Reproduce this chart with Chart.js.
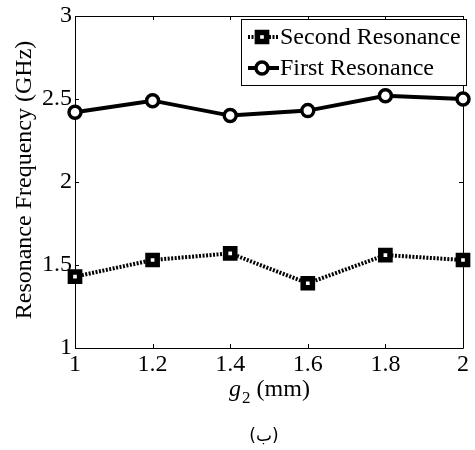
<!DOCTYPE html>
<html>
<head>
<meta charset="utf-8">
<script src="https://cdn.jsdelivr.net/npm/chart.js@4/dist/chart.umd.min.js"></script>
<style>
  body { margin: 0; background: #fff; }
  #wrap { width: 475px; height: 450px; }
</style>
</head>
<body>
<div id="wrap"><canvas id="chart" width="475" height="450"></canvas></div>
<script>
// values
const gValues = [1, 1.2, 1.4, 1.6, 1.8, 2];
const firstRes = [2.42, 2.49, 2.40, 2.43, 2.52, 2.50];
const secondRes = [1.43, 1.53, 1.57, 1.39, 1.56, 1.53];
const xTicks = [1, 1.2, 1.4, 1.6, 1.8, 2];
const yTicks = [1, 1.5, 2, 2.5, 3];
const seriesNames = ['Second Resonance', 'First Resonance'];

const FONT = '"Liberation Serif"';

function pts(ys) {
    return gValues.map((x, i) => ({ x: x, y: ys[i] }));
}

// draws the matlab style box, inward ticks, labels and legend
const axesPlugin = {
    id: 'matlabAxes',
    beforeDatasetsDraw(chart) {
        const ctx = chart.ctx;
        const a = chart.chartArea;
        const xs = chart.scales.x, ys = chart.scales.y;
        ctx.save();
        ctx.strokeStyle = '#000';
        ctx.lineWidth = 1;
        ctx.beginPath();
        ctx.rect(a.left + 0.5, a.top + 0.5, a.right - a.left, a.bottom - a.top);
        ctx.stroke();
        ctx.beginPath();
        xTicks.forEach(v => {
            const px = Math.round(xs.getPixelForValue(v)) + 0.5;
            ctx.moveTo(px, a.bottom); ctx.lineTo(px, a.bottom - 4);
            ctx.moveTo(px, a.top); ctx.lineTo(px, a.top + 4);
        });
        yTicks.forEach(v => {
            const py = Math.round(ys.getPixelForValue(v)) + 0.5;
            ctx.moveTo(a.left, py); ctx.lineTo(a.left + 4, py);
            ctx.moveTo(a.right, py); ctx.lineTo(a.right - 4, py);
        });
        ctx.stroke();

        ctx.fillStyle = '#000';
        ctx.font = '24px ' + FONT;
        ctx.textAlign = 'center';
        ctx.textBaseline = 'top';
        xTicks.forEach(v => {
            ctx.fillText(String(v), xs.getPixelForValue(v), a.bottom + 5);
        });
        ctx.textAlign = 'right';
        ctx.textBaseline = 'middle';
        yTicks.forEach(v => {
            ctx.fillText(String(v), a.left - 3, ys.getPixelForValue(v));
        });

        // x title: g2 (mm)
        const cx = (a.left + a.right) / 2;
        ctx.textAlign = 'left';
        ctx.textBaseline = 'alphabetic';
        ctx.font = 'italic 24px ' + FONT;
        const gw = ctx.measureText('g').width;
        ctx.font = '17px ' + FONT;
        const sw = ctx.measureText('2').width;
        ctx.font = '24px ' + FONT;
        const mw = ctx.measureText(' (mm)').width;
        let x0 = cx - (gw + sw + mw) / 2;
        const base = 396;
        ctx.font = 'italic 24px ' + FONT;
        ctx.fillText('g', x0, base);
        ctx.font = '17px ' + FONT;
        ctx.fillText('2', x0 + gw + 1, base + 7);
        ctx.font = '24px ' + FONT;
        ctx.fillText(' (mm)', x0 + gw + sw + 1, base);

        // y title
        ctx.save();
        ctx.translate(31, (a.top + a.bottom) / 2 - 2);
        ctx.rotate(-Math.PI / 2);
        ctx.textAlign = 'center';
        ctx.textBaseline = 'alphabetic';
        ctx.font = '24px ' + FONT;
        ctx.fillText('Resonance Frequency (GHz)', 0, 0);
        ctx.restore();

        // caption
        ctx.textAlign = 'center';
        ctx.textBaseline = 'alphabetic';
        ctx.font = '17px "DejaVu Sans"';
        ctx.fillText('(ب)', 264, 441);
        ctx.restore();
    },
    afterDraw(chart) {
        const ctx = chart.ctx;
        ctx.save();
        // legend box
        const bx = 241.5, by = 19.5, bw = 225, bh = 66;
        ctx.fillStyle = '#fff';
        ctx.fillRect(bx, by, bw, bh);
        ctx.strokeStyle = '#000';
        ctx.lineWidth = 1;
        ctx.strokeRect(bx, by, bw, bh);

        const rows = [37, 68];
        chart.data.datasets.forEach((ds, i) => {
            const y = rows[i];
            ctx.strokeStyle = '#000';
            ctx.lineWidth = 4;
            ctx.setLineDash(ds.borderDash || []);
            ctx.beginPath();
            ctx.moveTo(248, y); ctx.lineTo(279, y);
            ctx.stroke();
            ctx.setLineDash([]);
            ctx.fillStyle = '#fff';
            ctx.strokeStyle = '#000';
            ctx.lineWidth = ds.pointBorderWidth;
            Chart.helpers.drawPoint(ctx, {
                pointStyle: ds.pointStyle,
                radius: ds.pointRadius,
                borderWidth: ds.pointBorderWidth,
                rotation: 0
            }, 262, y);
            ctx.fillStyle = '#000';
            ctx.font = '24px ' + FONT;
            ctx.textAlign = 'left';
            ctx.textBaseline = 'middle';
            ctx.fillText(ds.label, 280, y + 1);
        });
        ctx.restore();
    }
};

function build() {
    const ctx = document.getElementById('chart').getContext('2d');
    new Chart(ctx, {
        type: 'line',
        data: {
            datasets: [{
                label: seriesNames[0],
                data: pts(secondRes),
                borderColor: '#000',
                borderWidth: 4,
                borderDash: [2, 1.5],
                pointStyle: 'rect',
                pointRadius: 6.5,
                pointBorderWidth: 5.5,
                pointBackgroundColor: '#fff',
                pointBorderColor: '#000',
                clip: false
            }, {
                label: seriesNames[1],
                data: pts(firstRes),
                borderColor: '#000',
                borderWidth: 4,
                pointStyle: 'circle',
                pointRadius: 6,
                pointBorderWidth: 3.5,
                pointBackgroundColor: '#fff',
                pointBorderColor: '#000',
                clip: false
            }]
        },
        options: {
            responsive: false,
            animation: false,
            layout: { padding: { left: 75, top: 16, right: 5, bottom: 102 } },
            plugins: { legend: { display: false }, tooltip: { enabled: false } },
            scales: {
                x: { type: 'linear', min: 1, max: 2, display: false },
                y: { type: 'linear', min: 1, max: 3, display: false }
            }
        },
        plugins: [axesPlugin]
    });
}

build();
</script>
</body>
</html>
